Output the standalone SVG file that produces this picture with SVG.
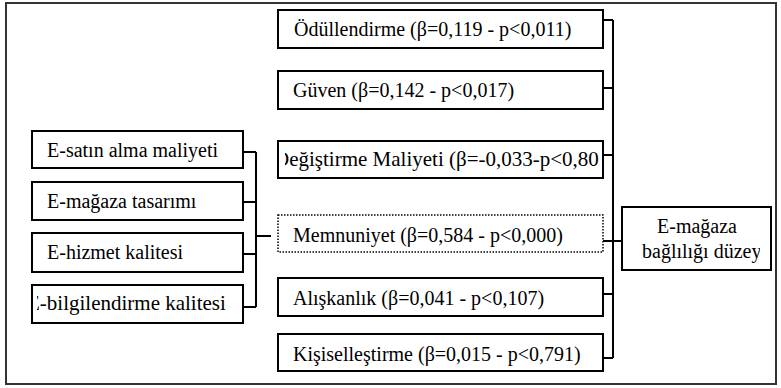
<svg xmlns="http://www.w3.org/2000/svg" width="781" height="388" viewBox="0 0 781 388">
<style>
.box{fill:#fff;stroke:#000;stroke-width:2}
.dot{fill:#fff;stroke:#000;stroke-width:1.5;stroke-dasharray:1.5 1.5}
.frame{fill:#fff;stroke:#333;stroke-width:2}
.ln{stroke:#000;stroke-width:2;fill:none}
</style>
<defs>
<clipPath id="cDeg"><rect x="285" y="142" width="315" height="35"/></clipPath>
<clipPath id="cBil"><rect x="37" y="286" width="204" height="36"/></clipPath>
<clipPath id="cTgt"><rect x="624" y="209" width="136" height="59"/></clipPath>
</defs>
<rect class="frame" x="6" y="3" width="770" height="381"/>
<g id="connectors">
<path class="ln" d="M243 152H256M243 202H256M243 254H256M243 307H256M256 152V307M256 236H271"/>
<path class="ln" d="M603 20H613M603 88H613M603 155H613M603 241H622M603 294H613M603 358H613M613 20V358"/>
</g>
<g id="nodes" font-family="Liberation Serif, serif" font-size="20" fill="#000">
<g id="n-satin"><rect class="box" x="32" y="131" width="211" height="37"/><text x="47" y="157">E-satın alma maliyeti</text></g>
<g id="n-tasarim"><rect class="box" x="32" y="182" width="211" height="38"/><text x="47" y="208">E-mağaza tasarımı</text></g>
<g id="n-hizmet"><rect class="box" x="32" y="233" width="211" height="39"/><text x="47" y="259">E-hizmet kalitesi</text></g>
<g id="n-bilgi"><rect class="box" x="32" y="285" width="211" height="38"/><text x="27" y="310" font-size="21" clip-path="url(#cBil)">E-bilgilendirme kalitesi</text></g>
<g id="n-odul"><rect class="box" x="278" y="10" width="325" height="38"/><text x="294" y="36">Ödüllendirme (β=0,119 - p&lt;0,011)</text></g>
<g id="n-guven"><rect class="box" x="278" y="71" width="325" height="38"/><text x="293" y="97">Güven (β=0,142 - p&lt;0,017)</text></g>
<g id="n-degis"><rect class="box" x="278" y="141" width="325" height="37"/><text x="274" y="166" font-size="21" clip-path="url(#cDeg)">Değiştirme Maliyeti (β=-0,033-p&lt;0,801)</text></g>
<g id="n-memnun"><rect class="dot" x="278" y="215" width="325" height="37"/><text x="293" y="242">Memnuniyet (β=0,584 - p&lt;0,000)</text></g>
<g id="n-aliskan"><rect class="box" x="278" y="278" width="325" height="38"/><text x="293" y="305">Alışkanlık (β=0,041 - p&lt;0,107)</text></g>
<g id="n-kisisel"><rect class="box" x="278" y="334" width="325" height="37"/><text x="293" y="361">Kişiselleştirme (β=0,015 - p&lt;0,791)</text></g>
<g id="n-target"><rect class="box" x="622" y="207" width="149" height="63"/><g clip-path="url(#cTgt)"><text x="697" y="233" text-anchor="middle">E-mağaza</text><text x="642" y="258">bağlılığı düzeyi</text></g></g>
</g>
</svg>
